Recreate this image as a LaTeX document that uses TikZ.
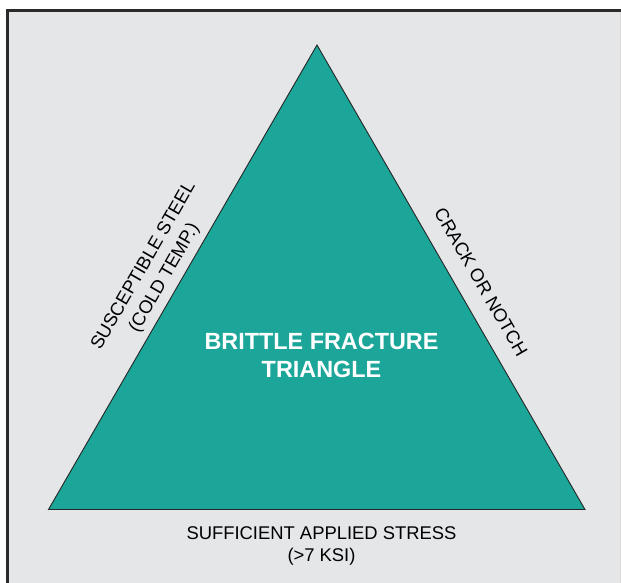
\documentclass[tikz,border=0pt]{standalone}
\usepackage{fontspec}
\setmainfont{Liberation Sans}
\definecolor{bgray}{HTML}{E5E6E8}
\definecolor{frame}{HTML}{2B2B2B}
\definecolor{teal}{HTML}{1BA699}
\tikzset{
  sidelabel/.style={inner sep=0pt, align=center, text=black, font=\fontsize{18.4}{24}\selectfont},
  titlelabel/.style={inner sep=0pt, align=center, text=white, font=\fontsize{23.4}{28}\selectfont\bfseries},
  tri/.style={fill=teal, draw=black!85, line width=0.9pt, line join=miter}
}
\begin{document}
\begin{tikzpicture}[x=1pt,y=-1pt]
\useasboundingbox (0,0) rectangle (621,583);
\fill[white] (0,0) rectangle (621,583);
\fill[bgray] (7.3,10.3) rectangle (621,583);
\draw[frame, line width=2.7pt] (7.3,583) -- (7.3,10.3) -- (621,10.3);
\draw[black!15, line width=0.8pt] (620.4,11.7) -- (620.4,583);
\coordinate (L) at (48.5,509.5);
\coordinate (R) at (585,509.5);
\coordinate (T) at (317,45);
\draw[tri] (L) -- (R) -- (T) -- cycle;
\node[titlelabel, anchor=north] (title) at (321.5,332.5) {BRITTLE FRACTURE\\TRIANGLE};
\node[sidelabel, anchor=north, font=\fontsize{18.4}{22}\selectfont] (base) at (321.5,526.5) {SUFFICIENT APPLIED STRESS\\(>7 KSI)};
\node[sidelabel, rotate=60] (left) at (154.4,272.2) {SUSCEPTIBLE STEEL\\(COLD TEMP.)};
\node[sidelabel, rotate=-60] (right) at (481,282) {CRACK OR NOTCH};
\end{tikzpicture}
\end{document}
